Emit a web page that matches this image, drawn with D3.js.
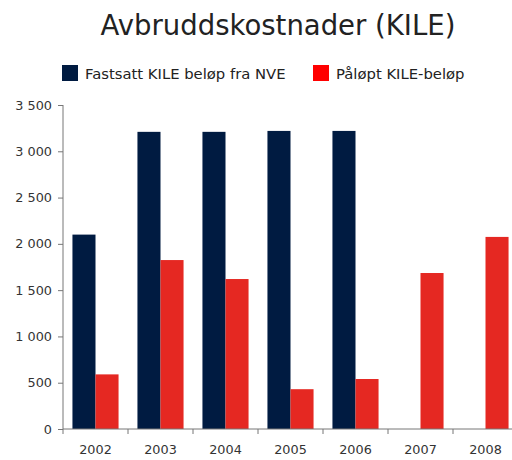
<!DOCTYPE html>
<meta charset="utf-8">
<style>
  body { margin: 0; background: #fff; }
  svg text { font-family: "DejaVu Sans", sans-serif; fill: #222; }
  .tick text { font-size: 12.8px; fill: #333; }
</style>
<body>
<svg id="chart" width="512" height="460"></svg>
<script src="https://d3js.org/d3.v7.min.js"></script>
<script>
  // data
  var years = ['2002', '2003', '2004', '2005', '2006', '2007', '2008'];
  var seriesNames = ['Fastsatt KILE beløp fra NVE', 'Påløpt KILE-beløp'];
  var fastsatt = [2100, 3210, 3210, 3220, 3220, null, null];
  var palopt = [590, 1825, 1620, 430, 540, 1685, 2075];
  var yTicks = [0, 500, 1000, 1500, 2000, 2500, 3000, 3500];

  var barColors = ['#001b41', '#e52822'];
  var legendColors = ['#001b41', '#ff0000'];

  var svg = d3.select('svg');
  var plotLeft = 63, plotRight = 518, plotTop = 105, plotBottom = 429;

  var x0 = d3.scaleBand().domain(years).range([plotLeft, plotRight]);
  var x1 = d3.scaleBand().domain([0, 1]).range([0, x0.bandwidth()]).paddingOuter(0.41);
  var y = d3.scaleLinear().domain([0, 3500]).range([plotBottom, plotTop]);

  // title
  svg.append('text')
    .attr('x', 278).attr('y', 35)
    .attr('text-anchor', 'middle')
    .style('font-size', '27.5px')
    .text('Avbruddskostnader (KILE)');

  // legend
  var legendX = [62, 313];
  seriesNames.forEach(function(name, i) {
    svg.append('rect')
      .attr('x', legendX[i]).attr('y', 65)
      .attr('width', 16).attr('height', 16)
      .attr('fill', legendColors[i]);
    svg.append('text')
      .attr('x', legendX[i] + 23).attr('y', 78.5)
      .style('font-size', '14.8px')
      .text(name);
  });

  // bars
  var rows = years.map(function(yr, i) { return {year: yr, vals: [fastsatt[i], palopt[i]]}; });
  var groups = svg.selectAll('g.grp').data(rows).enter().append('g')
    .attr('class', 'grp')
    .attr('transform', function(d) { return 'translate(' + x0(d.year) + ',0)'; });
  groups.selectAll('rect')
    .data(function(d) { return d.vals.map(function(v, i) { return {i: i, v: v}; }).filter(function(e) { return e.v != null; }); })
    .enter().append('rect')
      .attr('x', function(d) { return x1(d.i); })
      .attr('width', x1.bandwidth())
      .attr('y', function(d) { return y(d.v); })
      .attr('height', function(d) { return plotBottom - y(d.v); })
      .attr('fill', function(d) { return barColors[d.i]; });

  // y axis
  var yAxis = svg.append('g')
    .attr('transform', 'translate(' + plotLeft + ',0)')
    .call(d3.axisLeft(y).tickValues(yTicks).tickSize(5).tickPadding(6)
      .tickFormat(function(d) { return d3.format(',')(d).replace(',', ' '); }));
  yAxis.select('.domain').attr('stroke', '#777').attr('d', 'M0,' + plotTop + 'V' + plotBottom);
  yAxis.selectAll('.tick line').attr('stroke', '#777');

  // x axis: labels at centres, ticks at band edges
  var xAxis = svg.append('g')
    .attr('transform', 'translate(0,' + plotBottom + ')')
    .call(d3.axisBottom(x0).tickSize(0).tickPadding(16));
  xAxis.select('.domain').attr('stroke', '#777').attr('d', 'M' + plotLeft + ',0H' + plotRight);
  xAxis.selectAll('.edge').data(years).enter().append('line')
    .attr('class', 'edge')
    .attr('x1', function(d) { return x0(d); }).attr('x2', function(d) { return x0(d); })
    .attr('y1', 0).attr('y2', 5)
    .attr('stroke', '#777');
</script>
</body>
